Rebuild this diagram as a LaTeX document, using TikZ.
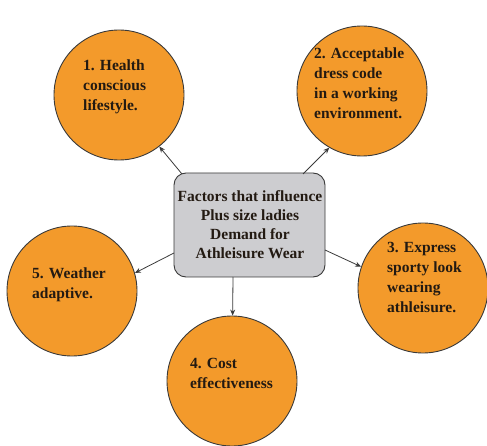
\documentclass[tikz,border=0pt]{standalone}
\usepackage{fontspec}
\setmainfont{Liberation Serif}
\usetikzlibrary{arrows.meta}
\definecolor{orng}{HTML}{F39A2B}
\definecolor{boxgray}{HTML}{CDCDD0}
\definecolor{edge}{HTML}{3A3A3A}
\definecolor{txt}{HTML}{231A12}
\begin{document}
\begin{tikzpicture}[x=1pt,y=-1pt,
  factor/.style={circle,draw=edge,line width=0.9pt,fill=orng,minimum size=130pt,inner sep=0pt},
  lbl/.style={align=left,text=txt,font=\fontsize{15.5}{20}\selectfont\bfseries,inner sep=0pt,anchor=north west},
  hub/.style={draw=edge,line width=0.9pt,fill=boxgray,rounded corners=12pt,minimum width=151pt,minimum height=104pt,inner sep=0pt},
  arr/.style={draw=edge,line width=0.8pt,-{Stealth[length=6pt,width=5pt]}}]
\useasboundingbox (0,0) rectangle (487,446);
% circles
\node[factor] (c1) at (119,95) {};
\node[factor] (c2) at (362,91) {};
\node[factor] (c3) at (423,288) {};
\node[factor] (c4) at (232,381) {};
\node[factor] (c5) at (72,291) {};
% hub
\node[hub] (hub) at (249.5,225) {};
\node[align=center,text=txt,font=\fontsize{15.5}{19}\selectfont\bfseries,inner sep=0pt] (hubtxt) at (250,225)
  {Factors that influence\\Plus size ladies\\Demand for\\Athleisure Wear};
% labels
\node[lbl] (t1) at (83,60) {1. Health\\conscious\\lifestyle.};
\node[lbl] (t2) at (314,48) {2. Acceptable\\dress code\\in a working\\environment.};
\node[lbl] (t3) at (387,242) {3. Express\\sporty look\\wearing\\athleisure.};
\node[lbl] (t4) at (190,358) {4. Cost\\effectiveness};
\node[lbl] (t5) at (32,268) {5. Weather\\adaptive.};
% connector ends
\coordinate (h1) at (182,174);
\coordinate (h2) at (303,174);
\coordinate (h3) at (325,250);
\coordinate (h4) at (233,277);
\coordinate (h5) at (174,253);
\draw[arr] (h1) -- (c1.-52);
\draw[arr] (h2) -- (c2.-120);
\draw[arr] (h3) -- (c3.161);
\draw[arr] (h4) -- (c4);
\draw[arr] (h5) -- (c5.16);
\end{tikzpicture}
\end{document}
